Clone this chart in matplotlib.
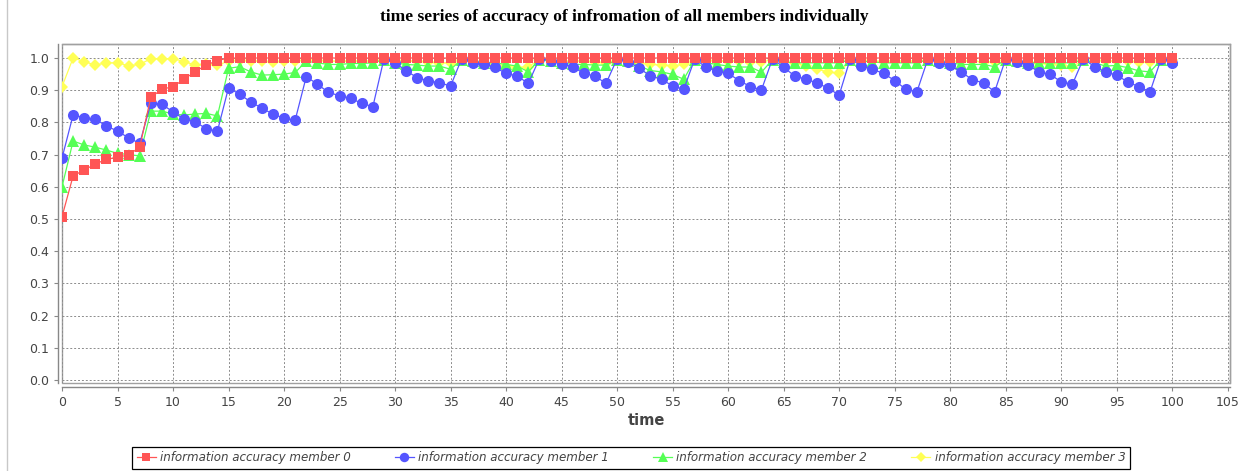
import numpy as np
import matplotlib
matplotlib.use("Agg")
import matplotlib.pyplot as plt
from matplotlib.lines import Line2D

# information accuracy per time step (t = 0 .. 100)
time = np.arange(101)

member0 = [0.507, 0.634, 0.652, 0.671, 0.685, 0.692, 0.699, 0.723,
           0.878, 0.903, 0.911, 0.934, 0.958, 0.978, 0.992] + [1.0] * 86

member1 = [0.689,
           0.823, 0.815, 0.810, 0.789, 0.773, 0.752, 0.735,
           0.859, 0.856, 0.833, 0.810, 0.802, 0.780, 0.773,
           0.908, 0.887, 0.864, 0.844, 0.826, 0.813, 0.807,
           0.942, 0.919, 0.893, 0.883, 0.875, 0.859, 0.849,
           0.998, 0.985, 0.960, 0.939, 0.929, 0.923, 0.913,
           0.998, 0.985, 0.981, 0.971, 0.952, 0.944, 0.921,
           0.998, 0.992, 0.981, 0.973, 0.952, 0.944, 0.921,
           0.998, 0.989, 0.968, 0.944, 0.934, 0.913, 0.903,
           0.998, 0.971, 0.961, 0.952, 0.930, 0.911, 0.901,
           0.998, 0.971, 0.944, 0.934, 0.923, 0.906, 0.885,
           0.998, 0.975, 0.965, 0.952, 0.930, 0.903, 0.895,
           0.998, 0.985, 0.978, 0.957, 0.932, 0.923, 0.895,
           0.998, 0.989, 0.978, 0.957, 0.949, 0.926, 0.918,
           0.998, 0.973, 0.956, 0.947, 0.925, 0.911, 0.895,
           0.998, 0.985]

member2 = [0.600, 0.742, 0.730, 0.723, 0.714, 0.704, 0.700, 0.696,
           0.835, 0.835, 0.826, 0.823, 0.826, 0.828, 0.820,
           0.968, 0.973, 0.957, 0.947, 0.948, 0.950, 0.955,
           0.990, 0.985, 0.980, 0.980, 0.983, 0.983, 0.985,
           0.995, 0.985, 0.980, 0.978, 0.975, 0.975, 0.965,
           0.995, 0.990, 0.985, 0.985, 0.980, 0.975, 0.957,
           0.995, 0.990, 0.985, 0.980, 0.980, 0.978, 0.978,
           0.995, 0.990, 0.975, 0.961, 0.957, 0.949, 0.934,
           0.995, 0.985, 0.980, 0.975, 0.972, 0.972, 0.956,
           0.995, 0.988, 0.985, 0.985, 0.985, 0.985, 0.985,
           0.995, 0.990, 0.988, 0.985, 0.985, 0.985, 0.985,
           0.995, 0.990, 0.985, 0.980, 0.980, 0.980, 0.973,
           0.995, 0.990, 0.985, 0.985, 0.985, 0.985, 0.985,
           0.995, 0.985, 0.975, 0.977, 0.970, 0.960, 0.957,
           0.995, 0.995]

member3 = [0.911, 1.000, 0.989, 0.978, 0.985, 0.985, 0.976, 0.980,
           0.998, 0.998, 0.998, 0.989, 0.978, 0.980, 0.978,
           0.990, 0.993, 0.990, 0.990, 0.988, 0.990, 0.990,
           0.995, 0.993, 0.990, 0.990, 0.990, 0.990, 0.990,
           0.995, 0.993, 0.990, 0.990, 0.988, 0.985, 0.985,
           0.995, 0.990, 0.985, 0.980, 0.975, 0.970, 0.973,
           0.995, 0.993, 0.990, 0.990, 0.990, 0.988, 0.985,
           0.995, 0.990, 0.985, 0.980, 0.978, 0.976, 0.980,
           0.995, 0.993, 0.990, 0.990, 0.990, 0.988, 0.988,
           0.995, 0.990, 0.985, 0.975, 0.965, 0.957, 0.952,
           0.995, 0.993, 0.990, 0.990, 0.990, 0.990, 0.990,
           0.995, 0.993, 0.990, 0.990, 0.990, 0.988, 0.988,
           0.995, 0.990, 0.988, 0.985, 0.980, 0.978, 0.973,
           0.995, 0.993, 0.990, 0.990, 0.990, 0.988, 0.988,
           0.995, 0.995]

labels = ["information accuracy member 0", "information accuracy member 1",
          "information accuracy member 2", "information accuracy member 3"]
colors = ["#FF5555", "#5555FF", "#55FF55", "#FFFF55"]
markers = ["s", "o", "^", "D"]
sizes = [7.2, 8.0, 8.5, 6.3]

W, H = 1249, 471
fig = plt.figure(figsize=(W / 100, H / 100), dpi=100)
ax = fig.add_axes([62 / W, 1 - 383 / H, (1230 - 62) / W, (383 - 44) / H])

series = [member0, member1, member2, member3]
handles = []
# later series sit underneath, member 0 is drawn on top
for i, (vals, lab, c, m, s) in enumerate(zip(series, labels, colors, markers, sizes)):
    h, = ax.plot(time, vals, color=c, marker=m, markersize=s, markeredgewidth=0,
                 lw=0.9, label=lab, zorder=10 - i)
    handles.append(h)

ax.set_xlim(0, 105.2)
ax.set_ylim(-0.0093, 1.0435)
ax.set_xticks(np.arange(0, 106, 5))
ax.set_yticks(np.arange(0, 1.01, 0.1))
ax.set_yticklabels([f"{v:.1f}" for v in np.arange(0, 1.01, 0.1)])

ax.grid(True, color="#8c8c8c", linestyle=(0, (2, 2)), linewidth=0.7)
ax.set_axisbelow(True)

for side in ["top", "right"]:
    ax.spines[side].set_color("#a0a0a0")
    ax.spines[side].set_linewidth(1.0)
for side in ["left", "bottom"]:
    ax.spines[side].set_position(("outward", 3))
    ax.spines[side].set_color("#888888")
    ax.spines[side].set_linewidth(1.0)
ax.patch.set_edgecolor("#a0a0a0")
ax.patch.set_linewidth(1.0)

ax.tick_params(axis="both", length=3, width=0.8, color="#888888",
               labelsize=9, labelcolor="#444444", pad=3)

ax.set_xlabel("time", fontsize=10.5, fontweight="bold", color="#444444", labelpad=3)
fig.suptitle("time series of accuracy of infromation of all members individually",
             x=0.5, y=1 - 17 / H, va="center", fontsize=12.5, fontweight="bold",
             family="Liberation Serif")

leg = fig.legend(handles=handles, loc="center", bbox_to_anchor=(631 / W, 1 - 458 / H),
                 ncol=4, prop={"style": "italic", "size": 8.6},
                 frameon=True, fancybox=False, edgecolor="black", framealpha=1,
                 handlelength=1.6, handletextpad=0.35, columnspacing=3.7,
                 borderpad=0.35, markerscale=0.85)
leg.get_frame().set_linewidth(0.9)
for t in leg.get_texts():
    t.set_color("#444444")

# panel border on the left
fig.add_artist(Line2D([7 / W, 7 / W], [0, 1], color="#c8c8c8", lw=1.0))

fig.savefig("out.png", dpi=100)
